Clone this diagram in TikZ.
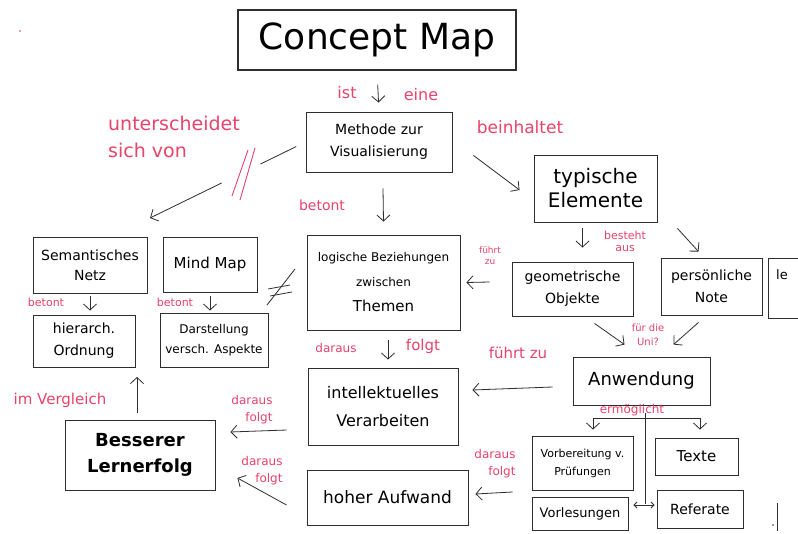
\documentclass[tikz,border=0pt]{standalone}
\usepackage{fontspec}
\setmainfont{DejaVu Sans}
\usetikzlibrary{arrows.meta,calc}
\definecolor{pinkc}{HTML}{E8436A}
\definecolor{inkc}{HTML}{2E2E2E}
\newcommand\fsz[2]{\fontsize{#1}{#2}\selectfont}
\begin{document}
\begin{tikzpicture}[x=1pt,y=-1pt,
  box/.style={draw=inkc, line width=0.9pt, align=center, text=black, inner sep=2pt},
  arr/.style={draw=inkc, line width=0.8pt, -{Straight Barb[length=6pt,width=13pt]}},
  darr/.style={draw=inkc, line width=0.8pt, {Straight Barb[length=3pt,width=6pt]}-{Straight Barb[length=3pt,width=6pt]}},
  plainline/.style={draw=inkc, line width=0.8pt},
  lbl/.style={text=pinkc, inner sep=0pt, align=center},
  pinkstroke/.style={draw=pinkc, line width=0.9pt}]
\useasboundingbox (0,0) rectangle (798,534);
\clip (0,0) rectangle (798,534);
\fill[white] (0,0) rectangle (798,534);

% ---------- boxes ----------
\node[box, line width=1.1pt, minimum width=278, minimum height=60, font=\fsz{36}{40}] (title) at (377,40) {Concept Map};
\node[box, minimum width=146, minimum height=60, font=\fsz{14}{22}] (methode) at (379,142) {Methode zur\\Visualisierung};
\node[box, minimum width=123, minimum height=67, font=\fsz{20}{24}] (typ) at (595.5,188.5) {typische\\Elemente};
\node[box, minimum width=114, minimum height=56, font=\fsz{14}{20}] (sem) at (90,265) {Semantisches\\Netz};
\node[box, minimum width=94, minimum height=55, font=\fsz{15}{18}] (mind) at (210,264.5) {Mind Map};
\node[box, minimum width=102, minimum height=52, font=\fsz{14}{22}] (hier) at (84,341) {hierarch.\\Ordnung};
\node[box, minimum width=108, minimum height=54, font=\fsz{12}{20}] (darst) at (214,340) {Darstellung\\versch. Aspekte};
\node[box, minimum width=153, minimum height=95, font=\fsz{12}{25}] (logik) at (383.5,282.5) {logische Beziehungen\\zwischen\\{\fsz{15}{25}Themen}};
\node[box, minimum width=121, minimum height=54, font=\fsz{14}{22}] (geo) at (572.5,289) {geometrische\\Objekte};
\node[box, minimum width=101, minimum height=57, font=\fsz{14}{22}] (pers) at (711.5,286.5) {persönliche\\Note};
\node[box, anchor=north west, minimum width=44, minimum height=60, inner sep=0pt] (le) at (768,258) {};
\node[anchor=west, inner sep=0pt, font=\fsz{13}{15}] (letext) at ([shift={(8,-14)}]le.west) {le};
\node[box, minimum width=150, minimum height=77, font=\fsz{16}{28}] (intel) at (383,406.5) {intellektuelles\\Verarbeiten};
\node[box, minimum width=137, minimum height=48, font=\fsz{18}{22}] (anw) at (641.5,381) {Anwendung};
\node[box, minimum width=150, minimum height=70, font=\fsz{18}{26}\bfseries] (bess) at (140,455) {Besserer\\Lernerfolg};
\node[box, minimum width=161, minimum height=55, font=\fsz{17}{20}] (hoher) at (387.5,497.5) {hoher Aufwand};
\node[box, minimum width=101, minimum height=54, font=\fsz{11}{18}] (vorb) at (582.5,463) {Vorbereitung v.\\Prüfungen};
\node[box, minimum width=83, minimum height=37, font=\fsz{15}{18}] (texte) at (696.5,456.5) {Texte};
\node[box, minimum width=96, minimum height=33, font=\fsz{13}{16}] (vorl) at (580,513.5) {Vorlesungen};
\node[box, minimum width=86, minimum height=38, font=\fsz{14}{17}] (ref) at (700,509) {Referate};

% ---------- helper coordinates ----------
\coordinate (grp) at (150,218);
\coordinate (cmpt) at (137,377);

% ---------- connectors ----------
\draw[arr, shorten <=14pt, shorten >=9pt] (title.south) -- (methode.north);
\draw[arr] ([shift={(21,-17)}]methode.south east) -- ([shift={(-14,1.5)}]typ.west);
\draw[plainline] ($(methode.west)!0.06!(grp)$) -- ($(methode.west)!0.29!(grp)$);
\draw[arr] ($(methode.west)!0.54!(grp)$) -- (grp);
\draw[arr] ([shift={(4,16)}]methode.south) -- ([shift={(0,-13)}]logik.north);
\draw[arr] ([shift={(-13,6)}]typ.south) -- ([shift={(10,-14)}]geo.north);
\draw[arr] ([shift={(20,6)}]typ.south east) -- ([shift={(-13,-6)}]pers.north);
\draw[arr] ([shift={(22,7)}]geo.south) -- ([shift={(-17,-12)}]anw.north);
\draw[arr] ([shift={(-13,7)}]pers.south) -- ([shift={(32,-12)}]anw.north);
\draw[arr] ([shift={(-22,-7)}]geo.west) -- ([shift={(6,0)}]logik.east);
\draw[arr] ([shift={(4.5,10)}]logik.south) -- ([shift={(5,-8)}]intel.north);
\draw[arr] ([shift={(-20,6)}]anw.west) -- ([shift={(14,-16.5)}]intel.east);
\draw[arr] ([shift={(-21,23.5)}]intel.west) -- ([shift={(15,-23)}]bess.east);
\draw[arr] ([shift={(-20,7.5)}]hoher.west) -- ([shift={(22,23)}]bess.east);
\draw[arr] ([shift={(-3,-7)}]bess.north) -- (cmpt);
\draw[arr] ([shift={(0,3)}]sem.south) -- ([shift={(6,-4)}]hier.north);
\draw[arr] ([shift={(0,4)}]mind.south) -- ([shift={(-4,-2)}]darst.north);
\draw[arr] ([shift={(-19,29)}]vorb.west) -- ([shift={(7,-3.5)}]hoher.east);
% tree below Anwendung
\coordinate (br) at ([shift={(3.5,13)}]anw.south);
\draw[plainline] ([shift={(3.5,8)}]anw.south) -- ([shift={(3.5,99)}]anw.south);
\draw[arr] (br) -| ([shift={(10.5,-6)}]vorb.north);
\draw[arr] (br) -| ([shift={(3.5,-8)}]texte.north);
\draw[darr] ([shift={(5,-8.5)}]vorl.east) -- ([shift={(-2,-4)}]ref.west);

% ---------- pink labels ----------
\node[lbl, font=\fsz{16}{18}] (ist) at (347,93) {ist};
\node[lbl, font=\fsz{16}{18}] (eine) at (421,95) {eine};
\node[lbl, font=\fsz{17}{20}] (beinh) at (520,127) {beinhaltet};
\node[lbl, font=\fsz{19}{27}, align=left, anchor=west] (untersch) at (108,137) {unterscheidet\\sich von};
\node[lbl, font=\fsz{14}{16}] (betont1) at (322,205) {betont};
\node[lbl, font=\fsz{11}{13}] (betont2) at (46,302) {betont};
\node[lbl, font=\fsz{11}{13}] (betont3) at (175,302) {betont};
\node[lbl, font=\fsz{9}{11}] (fz1) at (490,256) {führt\\zu};
\node[lbl, font=\fsz{11}{12}] (besteht) at (625,241) {besteht\\aus};
\node[lbl, font=\fsz{10}{14}] (fuerdie) at (648,335) {für die\\Uni?};
\node[lbl, font=\fsz{12}{14}] (daraus1) at (336,348) {daraus};
\node[lbl, font=\fsz{15}{16}] (folgt1) at (423,346) {folgt};
\node[lbl, font=\fsz{15}{16}] (fz2) at (518,353) {führt zu};
\node[lbl, font=\fsz{15}{16}] (imv) at (60,400) {im Vergleich};
\node[lbl, font=\fsz{12}{17}, align=right] (df1) at (252,410) {daraus\\folgt};
\node[lbl, font=\fsz{12}{17}, align=right] (df2) at (262,471) {daraus\\folgt};
\node[lbl, font=\fsz{12}{14}] (ermog) at (632,410) {ermöglicht};
\node[lbl, font=\fsz{12}{17}, align=right] (df3) at (495,464) {daraus\\folgt};

% ---------- marks ----------
\draw[pinkstroke] (248,150) -- (232,196);
\draw[pinkstroke] (255,148) -- (240,200);
\draw[plainline] (268,289) -- (290,285);
\draw[plainline] (270,296) -- (292,292);
\draw[plainline] (267,305) -- (295,269);
\fill[pinkc] (20,31) circle (0.9);
\fill[inkc] (773,525) circle (0.9);
\draw[plainline] (777,503) -- (777,531);
\end{tikzpicture}
\end{document}
